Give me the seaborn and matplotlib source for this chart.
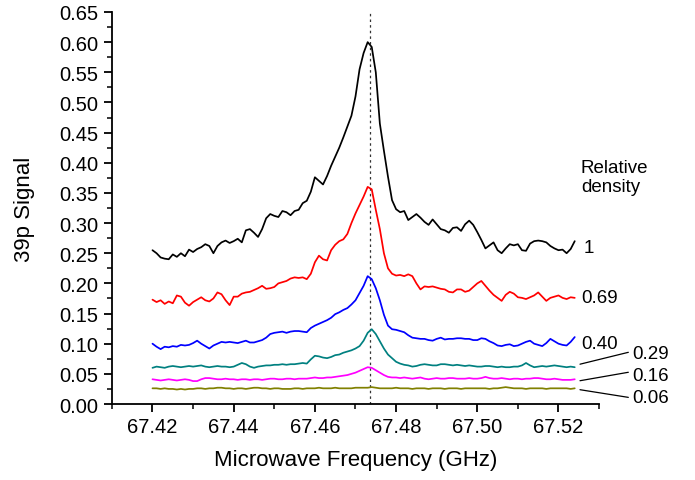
import matplotlib
matplotlib.use("Agg")
import matplotlib.pyplot as plt
import pandas as pd
import seaborn as sns
from matplotlib.ticker import MultipleLocator, FormatStrFormatter

# sampled microwave frequencies (GHz)
freq = [
    67.420, 67.421, 67.422, 67.423, 67.424, 67.425, 67.426, 67.427, 67.428, 67.429,
    67.430, 67.431, 67.432, 67.433, 67.434, 67.435, 67.436, 67.437, 67.438, 67.439,
    67.440, 67.441, 67.442, 67.443, 67.444, 67.445, 67.446, 67.447, 67.448, 67.449,
    67.450, 67.451, 67.452, 67.453, 67.454, 67.455, 67.456, 67.457, 67.458, 67.459,
    67.460, 67.461, 67.462, 67.463, 67.464, 67.465, 67.466, 67.467, 67.468, 67.469,
    67.470, 67.471, 67.472, 67.473, 67.474, 67.475, 67.476, 67.477, 67.478, 67.479,
    67.480, 67.481, 67.482, 67.483, 67.484, 67.485, 67.486, 67.487, 67.488, 67.489,
    67.490, 67.491, 67.492, 67.493, 67.494, 67.495, 67.496, 67.497, 67.498, 67.499,
    67.500, 67.501, 67.502, 67.503, 67.504, 67.505, 67.506, 67.507, 67.508, 67.509,
    67.510, 67.511, 67.512, 67.513, 67.514, 67.515, 67.516, 67.517, 67.518, 67.519,
    67.520, 67.521, 67.522, 67.523, 67.524,
]

dens_1 = [
    0.255, 0.250, 0.243, 0.241, 0.240, 0.248, 0.244, 0.250, 0.245, 0.256,
    0.252, 0.257, 0.260, 0.265, 0.262, 0.250, 0.262, 0.268, 0.271, 0.267,
    0.270, 0.274, 0.268, 0.288, 0.290, 0.284, 0.277, 0.290, 0.308, 0.315,
    0.312, 0.310, 0.320, 0.318, 0.313, 0.320, 0.322, 0.333, 0.337, 0.352,
    0.376, 0.370, 0.364, 0.378, 0.395, 0.410, 0.425, 0.442, 0.460, 0.478,
    0.510, 0.555, 0.582, 0.600, 0.592, 0.550, 0.465, 0.420, 0.377, 0.338,
    0.323, 0.318, 0.320, 0.305, 0.310, 0.315, 0.309, 0.302, 0.297, 0.306,
    0.298, 0.290, 0.288, 0.284, 0.292, 0.293, 0.287, 0.298, 0.304, 0.297,
    0.285, 0.272, 0.258, 0.263, 0.268, 0.255, 0.250, 0.258, 0.265, 0.263,
    0.265, 0.255, 0.254, 0.266, 0.270, 0.271, 0.270, 0.268, 0.262, 0.258,
    0.255, 0.256, 0.250, 0.257, 0.270,
]

dens_069 = [
    0.173, 0.169, 0.172, 0.166, 0.170, 0.167, 0.180, 0.178, 0.168, 0.163,
    0.169, 0.173, 0.177, 0.172, 0.170, 0.175, 0.185, 0.182, 0.172, 0.164,
    0.178, 0.178, 0.183, 0.185, 0.186, 0.189, 0.192, 0.196, 0.191, 0.192,
    0.194, 0.200, 0.202, 0.204, 0.208, 0.210, 0.209, 0.210, 0.207, 0.216,
    0.235, 0.246, 0.240, 0.238, 0.255, 0.264, 0.270, 0.273, 0.282, 0.300,
    0.316, 0.330, 0.344, 0.360, 0.356, 0.322, 0.290, 0.250, 0.225, 0.216,
    0.213, 0.214, 0.212, 0.215, 0.212, 0.200, 0.190, 0.195, 0.194, 0.195,
    0.193, 0.191, 0.190, 0.186, 0.185, 0.190, 0.190, 0.186, 0.188, 0.194,
    0.200, 0.204, 0.196, 0.188, 0.181, 0.176, 0.171, 0.181, 0.186, 0.183,
    0.177, 0.176, 0.174, 0.177, 0.180, 0.185, 0.178, 0.171, 0.176, 0.178,
    0.180, 0.176, 0.174, 0.177, 0.176,
]

dens_040 = [
    0.100, 0.095, 0.091, 0.095, 0.094, 0.096, 0.095, 0.098, 0.097, 0.098,
    0.101, 0.105, 0.100, 0.096, 0.092, 0.097, 0.100, 0.103, 0.102, 0.103,
    0.102, 0.101, 0.103, 0.105, 0.102, 0.102, 0.104, 0.106, 0.110, 0.116,
    0.118, 0.119, 0.120, 0.118, 0.120, 0.121, 0.121, 0.120, 0.119, 0.126,
    0.130, 0.133, 0.136, 0.139, 0.143, 0.149, 0.152, 0.156, 0.159, 0.165,
    0.172, 0.184, 0.196, 0.212, 0.207, 0.192, 0.172, 0.148, 0.130, 0.124,
    0.123, 0.121, 0.119, 0.114, 0.110, 0.109, 0.108, 0.108, 0.106, 0.105,
    0.108, 0.110, 0.107, 0.108, 0.108, 0.109, 0.109, 0.108, 0.108, 0.106,
    0.106, 0.109, 0.108, 0.104, 0.101, 0.097, 0.096, 0.098, 0.099, 0.096,
    0.097, 0.100, 0.103, 0.105, 0.100, 0.098, 0.096, 0.101, 0.108, 0.104,
    0.100, 0.098, 0.097, 0.103, 0.111,
]

dens_029 = [
    0.060, 0.062, 0.061, 0.060, 0.062, 0.063, 0.062, 0.061, 0.062, 0.063,
    0.062, 0.063, 0.064, 0.062, 0.061, 0.062, 0.063, 0.062, 0.062, 0.061,
    0.062, 0.065, 0.068, 0.066, 0.062, 0.060, 0.062, 0.063, 0.064, 0.064,
    0.065, 0.065, 0.066, 0.065, 0.066, 0.066, 0.067, 0.068, 0.067, 0.074,
    0.080, 0.079, 0.077, 0.076, 0.078, 0.081, 0.082, 0.085, 0.087, 0.089,
    0.092, 0.096, 0.105, 0.118, 0.124, 0.116, 0.104, 0.092, 0.082, 0.076,
    0.070, 0.067, 0.065, 0.064, 0.062, 0.063, 0.065, 0.066, 0.065, 0.064,
    0.064, 0.066, 0.066, 0.065, 0.064, 0.065, 0.064, 0.063, 0.064, 0.063,
    0.062, 0.062, 0.063, 0.063, 0.062, 0.061, 0.062, 0.061, 0.061, 0.062,
    0.062, 0.064, 0.068, 0.064, 0.061, 0.062, 0.063, 0.062, 0.063, 0.064,
    0.063, 0.062, 0.061, 0.062, 0.061,
]

dens_016 = [
    0.041, 0.040, 0.039, 0.040, 0.041, 0.040, 0.039, 0.040, 0.041, 0.040,
    0.038, 0.038, 0.041, 0.043, 0.043, 0.042, 0.041, 0.041, 0.042, 0.041,
    0.041, 0.040, 0.041, 0.041, 0.040, 0.041, 0.041, 0.040, 0.041, 0.042,
    0.042, 0.041, 0.041, 0.042, 0.042, 0.041, 0.042, 0.042, 0.042, 0.043,
    0.044, 0.043, 0.043, 0.044, 0.044, 0.045, 0.046, 0.047, 0.048, 0.050,
    0.052, 0.055, 0.058, 0.061, 0.060, 0.056, 0.052, 0.048, 0.045, 0.044,
    0.044, 0.043, 0.044, 0.043, 0.042, 0.043, 0.044, 0.042, 0.041, 0.042,
    0.043, 0.042, 0.042, 0.043, 0.043, 0.042, 0.042, 0.042, 0.043, 0.042,
    0.042, 0.043, 0.045, 0.043, 0.042, 0.042, 0.043, 0.042, 0.041, 0.042,
    0.042, 0.041, 0.042, 0.042, 0.043, 0.043, 0.042, 0.041, 0.041, 0.042,
    0.041, 0.040, 0.040, 0.040, 0.041,
]

dens_006 = [
    0.026, 0.026, 0.025, 0.026, 0.025, 0.025, 0.024, 0.025, 0.024, 0.025,
    0.025, 0.026, 0.026, 0.025, 0.026, 0.026, 0.027, 0.027, 0.026, 0.026,
    0.025, 0.026, 0.026, 0.025, 0.026, 0.027, 0.027, 0.026, 0.026, 0.025,
    0.026, 0.026, 0.025, 0.025, 0.025, 0.026, 0.026, 0.025, 0.026, 0.026,
    0.026, 0.027, 0.026, 0.026, 0.026, 0.027, 0.026, 0.026, 0.026, 0.026,
    0.027, 0.027, 0.027, 0.027, 0.028, 0.027, 0.026, 0.026, 0.026, 0.026,
    0.027, 0.026, 0.026, 0.026, 0.025, 0.026, 0.026, 0.026, 0.025, 0.026,
    0.026, 0.026, 0.025, 0.026, 0.026, 0.026, 0.025, 0.026, 0.026, 0.026,
    0.026, 0.026, 0.026, 0.025, 0.026, 0.026, 0.027, 0.028, 0.027, 0.026,
    0.026, 0.026, 0.025, 0.026, 0.026, 0.026, 0.026, 0.025, 0.026, 0.026,
    0.026, 0.026, 0.026, 0.025, 0.026,
]

density_labels = ["1", "0.69", "0.40", "0.29", "0.16", "0.06"]
line_colors = ["#000000", "#ff0000", "#0000ff", "#008080", "#ff00ff", "#808000"]
resonance = 67.4735

series = [dens_1, dens_069, dens_040, dens_029, dens_016, dens_006]
frames = []
for lab, vals in zip(density_labels, series):
    frames.append(pd.DataFrame({"freq": freq, "signal": vals, "density": lab}))
df = pd.concat(frames, ignore_index=True)

sns.set_style("ticks")
plt.rcParams["font.family"] = ["Liberation Sans", "DejaVu Sans"]
plt.rcParams["text.color"] = "black"
plt.rcParams["axes.labelcolor"] = "black"
plt.rcParams["axes.edgecolor"] = "black"
plt.rcParams["xtick.color"] = "black"
plt.rcParams["ytick.color"] = "black"

fig = plt.figure(figsize=(6.95, 4.81), dpi=100)
ax = fig.add_axes([0.161, 0.158, 0.701, 0.815])

sns.lineplot(ax=ax, data=df, x="freq", y="signal", hue="density",
             hue_order=density_labels, palette=line_colors,
             linewidth=1.25, errorbar=None, legend=False, estimator=None, sort=False)

ax.axvline(resonance, color="#333333", linestyle=(0, (2, 2.5)), linewidth=0.9, zorder=0)

ax.set_xlim(67.41, 67.53)
ax.set_ylim(0, 0.65)
ax.xaxis.set_major_locator(MultipleLocator(0.02))
ax.xaxis.set_minor_locator(MultipleLocator(0.01))
ax.xaxis.set_major_formatter(FormatStrFormatter("%.2f"))
ax.yaxis.set_major_locator(MultipleLocator(0.05))
ax.yaxis.set_minor_locator(MultipleLocator(0.025))
ax.yaxis.set_major_formatter(FormatStrFormatter("%.2f"))
ax.tick_params(which="major", length=6, width=1.3, labelsize=14.5, direction="out",
               colors="black")
ax.tick_params(which="minor", length=3.5, width=1.1, direction="out", colors="black")
for s in ["left", "bottom"]:
    ax.spines[s].set_linewidth(1.3)
    ax.spines[s].set_color("black")
sns.despine(ax=ax, top=True, right=True)

ax.set_xlabel("Microwave Frequency (GHz)", fontsize=16, labelpad=9)
ax.set_ylabel("39p Signal", fontsize=16, labelpad=18)

# density labels on the right
ax.text(67.5255, 0.376, "Relative\ndensity", fontsize=13.5, va="center", ha="left",
        linespacing=1.15, clip_on=False)
ax.text(67.5262, 0.260, "1", fontsize=13.5, va="center", ha="left", clip_on=False)
ax.text(67.5255, 0.177, "0.69", fontsize=13.5, va="center", ha="left", clip_on=False)
ax.text(67.5255, 0.0995, "0.40", fontsize=13.5, va="center", ha="left", clip_on=False)

leaders = [(0.066, 0.0857, 0.084), (0.0386, 0.0526, 0.047), (0.0237, 0.011, 0.011)]
for (y0, y1, ty), lab in zip(leaders, density_labels[3:]):
    ax.plot([67.5253, 67.5372], [y0, y1], color="black", linewidth=0.9, clip_on=False)
    ax.text(67.5382, ty, lab, fontsize=13.5, va="center", ha="left", clip_on=False)

fig.savefig("out.png", dpi=100)
